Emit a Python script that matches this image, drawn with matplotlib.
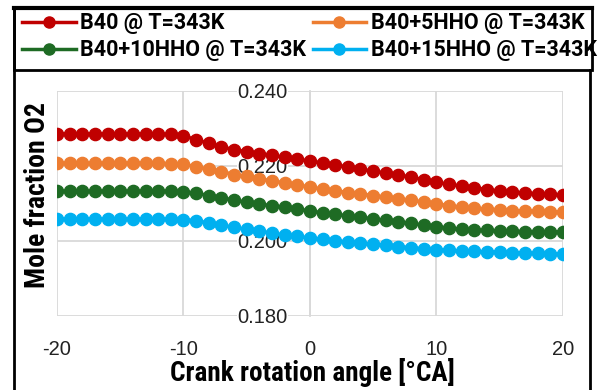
import matplotlib
matplotlib.use("Agg")
import matplotlib.pyplot as plt
from matplotlib.lines import Line2D
from matplotlib.patches import Rectangle

# crank angle [deg CA]
angle = list(range(-20, 21))

b40 = [0.2285] * 9 + [0.2284, 0.2280, 0.2270, 0.2260, 0.2251, 0.2243, 0.2238, 0.2233,
                      0.2228, 0.2223, 0.2218, 0.2213, 0.2208, 0.2203, 0.2197, 0.2191,
                      0.2186, 0.2181, 0.2176, 0.2170, 0.2163, 0.2156, 0.2151, 0.2146,
                      0.2142, 0.2137, 0.2133, 0.2130, 0.2128, 0.2126, 0.2124, 0.2123]
b40_5hho = [0.2207] * 9 + [0.2206, 0.2204, 0.2198, 0.2191, 0.2185, 0.2177, 0.2172, 0.2166,
                           0.2160, 0.2155, 0.2149, 0.2144, 0.2138, 0.2134, 0.2129, 0.2125,
                           0.2121, 0.2117, 0.2113, 0.2108, 0.2104, 0.2099, 0.2094, 0.2090,
                           0.2087, 0.2085, 0.2083, 0.2081, 0.2080, 0.2079, 0.2078, 0.2077]
b40_10hho = [0.2132] * 9 + [0.2132, 0.2131, 0.2127, 0.2121, 0.2115, 0.2109, 0.2103, 0.2098,
                            0.2094, 0.2090, 0.2085, 0.2080, 0.2075, 0.2071, 0.2067, 0.2063,
                            0.2059, 0.2055, 0.2051, 0.2047, 0.2042, 0.2038, 0.2034, 0.2031,
                            0.2029, 0.2028, 0.2027, 0.2026, 0.2025, 0.2025, 0.2024, 0.2024]
b40_15hho = [0.2058] * 9 + [0.2058, 0.2057, 0.2054, 0.2048, 0.2042, 0.2036, 0.2031, 0.2026,
                            0.2021, 0.2016, 0.2012, 0.2008, 0.2004, 0.2001, 0.1997, 0.1994,
                            0.1991, 0.1988, 0.1985, 0.1982, 0.1979, 0.1977, 0.1975, 0.1973,
                            0.1972, 0.1971, 0.1970, 0.1969, 0.1968, 0.1967, 0.1966, 0.1965]

labels = ['B40 @ T=343K', 'B40+5HHO @ T=343K', 'B40+10HHO @ T=343K', 'B40+15HHO @ T=343K']
colors = ['#C00000', '#ED7D31', '#1E6B24', '#00B0F0']
xticks = [-20, -10, 0, 10, 20]
yticks = [0.180, 0.200, 0.220, 0.240]

narrow = ['Roboto Condensed', 'Liberation Sans Narrow', 'Roboto', 'DejaVu Sans']
plt.rcParams['font.family'] = ['Liberation Sans', 'DejaVu Sans']

fig = plt.figure(figsize=(6, 3.9), dpi=100)
ax = fig.add_axes([0.095, 0.19, 0.843, 0.577])

series = [b40, b40_5hho, b40_10hho, b40_15hho]
for ys, lab, c in zip(series, labels, colors):
    ax.plot(angle, ys, color=c, lw=2.5, marker='o', ms=8.8, label=lab, zorder=3)

ax.set_xlim(-20, 20)
ax.set_ylim(0.18, 0.24)
ax.set_xticks(xticks)
ax.set_yticks(yticks)
ax.set_xticklabels([str(t) for t in xticks])
ax.set_yticklabels(['%.3f' % t for t in yticks])
ax.grid(True, color='#D9D9D9', lw=1.3, zorder=0)
for s in ['top', 'right', 'bottom']:
    ax.spines[s].set_visible(False)
ax.spines['left'].set_position(('data', 0))
ax.spines['left'].set_color('#D9D9D9')
ax.spines['left'].set_linewidth(1.3)
ax.tick_params(axis='x', length=0, pad=17, labelsize=14.5, labelcolor='#222222')
ax.tick_params(axis='y', length=0, pad=16, labelsize=14.5, labelcolor='#222222')
for t in ax.get_yticklabels():
    t.set_bbox(dict(facecolor='white', edgecolor='none', pad=0.5))
    t.set_zorder(5)

fig.text(0.52, 0.044, 'Crank rotation angle [°CA]', ha='center', va='center',
         fontsize=19.5, fontweight='bold', family=narrow)
fig.text(0.063, 0.5, 'Mole fraction O2', ha='center', va='center', rotation=90,
         fontsize=20, fontweight='bold', family=narrow)

# legend filled row by row like the original
order = [0, 2, 1, 3]
handles = [Line2D([], [], color=colors[i], lw=2.5, marker='o', ms=8) for i in order]
fig.legend(handles, [labels[i] for i in order], loc='upper left',
           bbox_to_anchor=(22 / 600, 1 - 12.5 / 390), ncol=2,
           frameon=False, handlelength=2.5, handletextpad=0.2, columnspacing=0.3,
           labelspacing=0.22, borderaxespad=0, borderpad=0,
           prop={'family': ['Roboto', 'DejaVu Sans'], 'weight': 'bold', 'size': 15.5})

# outer frame and legend box
fig.add_artist(Line2D([14 / 600, 14 / 600], [0, 1 - 8 / 390], transform=fig.transFigure,
                      color='black', lw=2))
fig.add_artist(Line2D([590 / 600, 590 / 600], [0, 1 - 70 / 390], transform=fig.transFigure,
                      color='black', lw=2))
fig.add_artist(Rectangle((14 / 600, 1 - 70 / 390), 578 / 600, 62 / 390, transform=fig.transFigure,
                         fill=False, edgecolor='black', lw=2))
fig.add_artist(Line2D([14 / 600, 592 / 600], [1 - 8 / 390, 1 - 8 / 390], transform=fig.transFigure,
                      color='black', lw=3))

fig.savefig('out.png', dpi=100)
